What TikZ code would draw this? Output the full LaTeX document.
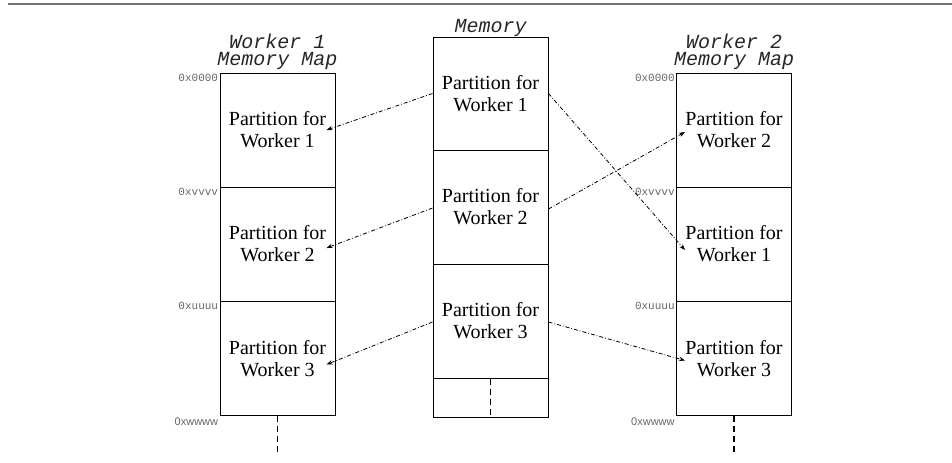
\documentclass[tikz,border=0pt]{standalone}
\usepackage{fontspec}
\setmainfont{Liberation Serif}
\setmonofont{Liberation Mono}
\newfontfamily\addrsans{Liberation Sans}
\usetikzlibrary{arrows.meta,positioning}

\begin{document}
\begin{tikzpicture}[x=0.5pt,y=-0.5pt,
  part/.style={draw,line width=0.5pt,minimum width=57.5pt,minimum height=57pt,inner sep=0pt},
  ptext/.style={align=center,inner sep=0pt,font=\fontsize{10}{11}\selectfont},
  maptitle/.style={align=center,inner sep=0pt,text=black!85,font=\fontsize{10}{8.5}\selectfont\ttfamily\itshape},
  addr/.style={anchor=north east,inner sep=0.5pt,text=black!60,font=\fontsize{5.5}{6}\selectfont\ttfamily},
  mapsto/.style={line width=0.4pt,dash pattern=on 2pt off 1pt on 0.4pt off 1pt,-{Stealth[length=3pt,width=2.2pt]}},
  more/.style={line width=0.8pt,dash pattern=on 3pt off 2pt}]
\useasboundingbox (0,0) rectangle (952,462);
\draw[black!55,line width=1pt] (8,3.5) -- (952,3.5);

% worker 1 memory map
\node[part] (l1) at (277.5,130) {};
\node[part] (l2) at (277.5,244) {};
\node[part] (l3) at (277.5,358.5) {};
\node[ptext] (l1t) at (l1) {Partition for\\Worker 1};
\node[ptext] (l2t) at (l2) {Partition for\\Worker 2};
\node[ptext] (l3t) at (l3) {Partition for\\Worker 3};
\node[maptitle,above=1pt of l1] (ltitle) {Worker 1\\Memory Map};
\node[addr] (la0) at (l1.north west) {0x0000};
\node[addr] (la1) at (l2.north west) {0xvvvv};
\node[addr] (la2) at (l3.north west) {0xuuuu};
\node[addr,font=\fontsize{5.5}{6}\selectfont\addrsans] (la3) at (l3.south west) {0xwwww};
\coordinate[below=18pt of l3.south] (ltail);
\draw[more] (l3.south) -- (ltail);

% physical memory
\node[part,minimum height=56.5pt] (m1) at (490.5,93.5) {};
\node[part] (m2) at (490.5,207) {};
\node[part] (m3) at (490.5,321) {};
\node[part,minimum height=19.5pt] (mend) at (490.5,397.5) {};
\node[ptext] (m1t) at (m1) {Partition for\\Worker 1};
\node[ptext] (m2t) at (m2) {Partition for\\Worker 2};
\node[ptext] (m3t) at (m3) {Partition for\\Worker 3};
\node[maptitle,above=-0.5pt of m1] (mtitle) {Memory};
\coordinate[above=1.5pt of mend.south] (mtail);
\draw[more] (m3.south) -- (mtail);

% worker 2 memory map
\node[part] (r1) at (734,130) {};
\node[part] (r2) at (734,244) {};
\node[part] (r3) at (734,358.5) {};
\node[ptext] (r1t) at (r1) {Partition for\\Worker 2};
\node[ptext] (r2t) at (r2) {Partition for\\Worker 1};
\node[ptext] (r3t) at (r3) {Partition for\\Worker 3};
\node[maptitle,above=1pt of r1] (rtitle) {Worker 2\\Memory Map};
\node[addr] (ra0) at (r1.north west) {0x0000};
\node[addr] (ra1) at (r2.north west) {0xvvvv};
\node[addr] (ra2) at (r3.north west) {0xuuuu};
\node[addr,font=\fontsize{5.5}{6}\selectfont\addrsans] (ra3) at (r3.south west) {0xwwww};
\coordinate[below=18pt of r3.south] (rtail);
\draw[more] (r3.south) -- (rtail);

% mappings
\draw[mapsto] (m1.west) -- (l1t.east);
\draw[mapsto] ([yshift=-0.5pt]m2.west) -- ([yshift=-2pt]l2t.east);
\draw[mapsto] ([yshift=-0.5pt]m3.west) -- ([yshift=-3pt]l3t.east);
\draw[mapsto] (m1.east) -- ([yshift=-3pt]r2t.west);
\draw[mapsto] ([yshift=-1pt]m2.east) -- ([yshift=-1pt]r1t.west);
\draw[mapsto] ([yshift=-0.5pt]m3.east) -- ([yshift=-1pt]r3t.west);
\end{tikzpicture}
\end{document}
